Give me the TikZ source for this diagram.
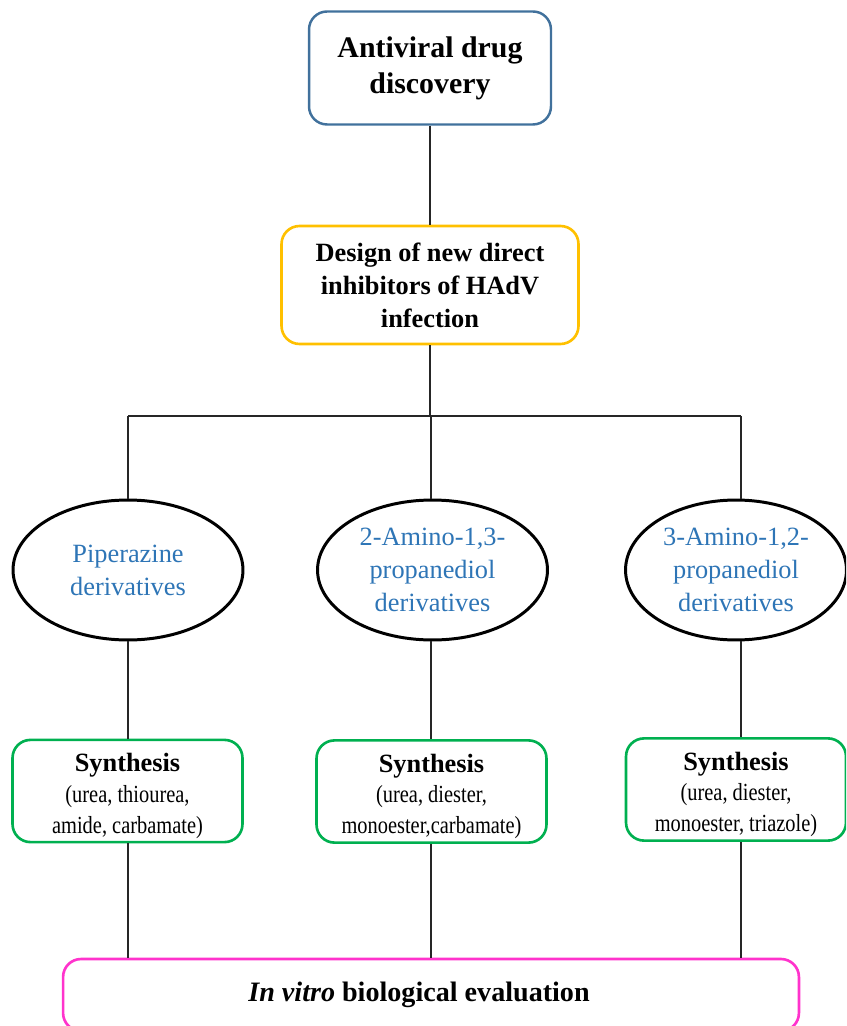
\documentclass[tikz,border=0pt]{standalone}
\usepackage{fontspec}
\setmainfont{Liberation Serif}
\newfontfamily\narrowserif{Liberation Serif}[FakeStretch=0.83]
\usetikzlibrary{shapes.geometric,positioning,calc}
\definecolor{drugblue}{HTML}{41719C}
\definecolor{designgold}{HTML}{FFC000}
\definecolor{derivblue}{HTML}{2E75B6}
\definecolor{synthgreen}{HTML}{00B050}
\definecolor{evalpink}{HTML}{FF33CC}

\begin{document}
\begin{tikzpicture}[x=0.02cm,y=-0.02cm,
  rbox/.style={draw,rounded corners=0.36cm,align=center,inner sep=2pt},
  topbox/.style={rbox,draw=drugblue,line width=1.4pt,minimum width=4.84cm,minimum height=2.26cm,
    font=\fontsize{17}{20.5}\selectfont\bfseries},
  designbox/.style={rbox,draw=designgold,line width=1.5pt,minimum width=5.94cm,minimum height=2.36cm,
    font=\fontsize{15}{18.7}\selectfont\bfseries},
  deriv/.style={ellipse,draw,line width=1.7pt,inner sep=0pt,minimum width=4.6cm,minimum height=2.8cm,
    align=center,text=derivblue,font=\fontsize{15}{18.7}\selectfont},
  synthbox/.style={rbox,draw=synthgreen,line width=1.5pt,minimum width=4.6cm,minimum height=2.04cm,
    font=\narrowserif\fontsize{14}{17.6}\selectfont},
  evalbox/.style={rbox,draw=evalpink,line width=1.5pt,minimum width=14.72cm,minimum height=1.44cm,
    font=\fontsize{16}{19}\selectfont\bfseries},
  link/.style={draw=black!85,line width=0.6pt}]
\useasboundingbox (0,0) rectangle (846,1026);
\clip (0,0) rectangle (846,1026);

\newcommand{\synthhead}{{\rule{0pt}{16pt}\rmfamily\fontsize{15}{18}\selectfont\bfseries Synthesis}}

\node[topbox] (drug) at (430,68) {Antiviral drug\\discovery};
\node[designbox] (design) at (430,285) {Design of new direct\\inhibitors of HAdV\\infection};

\coordinate (hub) at (430,416);
\coordinate (br1) at (128,416);
\coordinate (br2) at (431,416);
\coordinate (br3) at (741,416);

\node[deriv] (pip) at (128,570) {Piperazine\\derivatives};
\node[deriv] (amino13) at (432.5,570) {2-Amino-1,3-\\propanediol\\derivatives};
\node[deriv,minimum width=4.42cm] (amino12) at (736,570) {3-Amino-1,2-\\propanediol\\derivatives};

\node[synthbox] (syn1) at (127.5,791) {\synthhead\\(urea, thiourea,\\amide, carbamate)};
\node[synthbox] (syn2) at (431.5,791.5) {\synthhead\\(urea, diester,\\monoester,carbamate)};
\node[synthbox,minimum width=4.4cm] (syn3) at (736,789.5) {\synthhead\\(urea, diester,\\monoester, triazole)};

\node[evalbox] (eval) at (431,995) {\textit{In vitro} biological evaluation\hspace*{0.48cm}};

% tree
\draw[link] (drug) -- (design);
\draw[link] (design) -- (hub);
\draw[link] (br1) -- (br3);
\draw[link] (br1) -- (pip);
\draw[link] (br2) -- (br2 |- amino13.north);
\draw[link] (br3) -- (br3 |- amino12.north);

% ellipses to synthesis
\draw[link] (pip) -- (pip |- syn1.north);
\draw[link] (br2 |- amino13.south) -- (br2 |- syn2.north);
\draw[link] (br3 |- amino12.south) -- (br3 |- syn3.north);

% synthesis to evaluation
\draw[link] (pip |- syn1.south) -- (pip |- eval.north);
\draw[link] (br2 |- syn2.south) -- (br2 |- eval.north);
\draw[link] (br3 |- syn3.south) -- (br3 |- eval.north);
\end{tikzpicture}
\end{document}
